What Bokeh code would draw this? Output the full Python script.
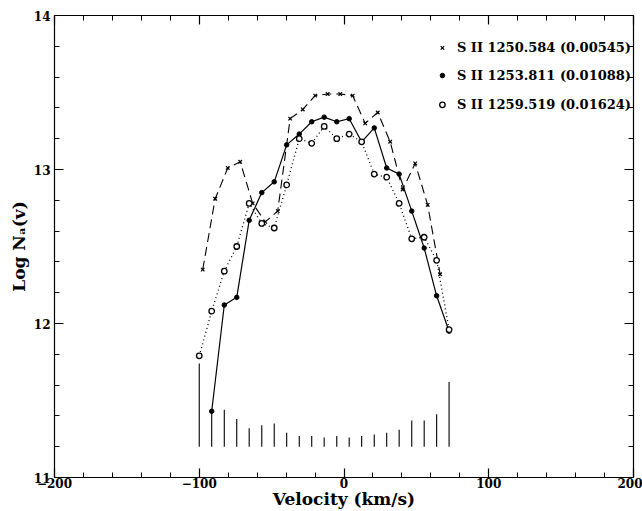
from bokeh.plotting import figure
from bokeh.models import LinearAxis, FixedTicker, Range1d
from bokeh.core.properties import value
from bokeh.embed import file_html
from bokeh.resources import INLINE

# Velocity grids (km/s)
vel = [-100.0, -91.4, -82.7, -74.1, -65.5, -56.8, -48.2, -39.6, -30.9, -22.3,
       -13.7, -5.0, 3.6, 12.2, 20.9, 29.5, 38.1, 46.8, 55.4, 64.0, 72.6]
vel_x = [-97.6, -89.0, -80.3, -71.7, -63.1, -54.4, -45.8, -37.2, -28.5, -19.9,
         -11.3, -2.6, 6.0, 14.6, 23.3, 31.9, 40.5, 49.2, 57.8, 66.4]

# S II 1250.584 (crosses, dashed)
logn_1250 = [12.35, 12.81, 13.01, 13.05, 12.78, 12.66, 12.73, 13.33, 13.39, 13.48,
             13.49, 13.49, 13.48, 13.30, 13.37, 13.18, 12.87, 13.04, 12.77, 12.32]
# S II 1253.811 (filled circles, solid) -- starts at second velocity bin
vel_1253 = vel[1:]
logn_1253 = [11.43, 12.12, 12.17, 12.67, 12.85, 12.92, 13.16, 13.23, 13.31, 13.34,
             13.31, 13.33, 13.18, 13.27, 13.01, 12.97, 12.73, 12.49, 12.18, 11.95]
# S II 1259.519 (open circles, dotted)
logn_1259 = [11.79, 12.08, 12.34, 12.50, 12.78, 12.65, 12.62, 12.90, 13.20, 13.17,
             13.28, 13.20, 13.23, 13.18, 12.97, 12.95, 12.78, 12.55, 12.56, 12.41, 11.96]
# vertical bars at the bottom
bar_base = 11.2
bar_top = [11.74, 11.43, 11.44, 11.38, 11.32, 11.34, 11.35, 11.29, 11.27, 11.27,
           11.26, 11.27, 11.26, 11.27, 11.28, 11.29, 11.31, 11.37, 11.37, 11.41, 11.62]

legend_labels = ["S II 1250.584 (0.00545)", "S II 1253.811 (0.01088)", "S II 1259.519 (0.01624)"]
legend_y = [13.79, 13.61, 13.42]

x_major = [-200, -100, 0, 100, 200]
y_major = [11, 12, 13, 14]

FONT = "DejaVu Serif"

p = figure(width=642, height=511, output_backend="svg", toolbar_location=None,
           x_range=Range1d(-200, 200), y_range=Range1d(11, 14),
           min_border_left=54, min_border_right=9, min_border_top=15, min_border_bottom=33,
           x_axis_label="Velocity (km/s)", y_axis_label="Log Nₐ(v)")
p.grid.visible = False
p.outline_line_color = "black"
p.outline_line_width = 1.2
p.background_fill_color = "white"
p.border_fill_color = "white"

x_minor = [v for v in range(-200, 201, 20)]
y_minor = [round(11 + 0.2 * k, 1) for k in range(16)]

def style_axis(ax, ticks, minor, labels=True):
    ax.ticker = FixedTicker(ticks=ticks, minor_ticks=minor)
    ax.major_tick_in = 9
    ax.major_tick_out = 0
    ax.minor_tick_in = 5
    ax.minor_tick_out = 0
    ax.major_tick_line_width = 1.2
    ax.minor_tick_line_width = 1.0
    ax.axis_line_color = None
    ax.major_label_text_font = FONT
    ax.major_label_text_font_style = "bold"
    ax.major_label_text_font_size = "12px"
    ax.major_label_text_color = "black"
    ax.axis_label_text_font = FONT
    ax.axis_label_text_font_style = "bold"
    ax.axis_label_text_font_size = "17px"
    ax.axis_label_text_color = "black"
    if not labels:
        ax.major_label_text_font_size = "0px"
        ax.major_label_text_color = None

style_axis(p.xaxis[0], x_major, x_minor)
style_axis(p.yaxis[0], y_major, y_minor)
p.xaxis[0].major_label_overrides = {t: str(t).replace("-", "\u2212") for t in x_major}
p.xaxis[0].major_label_standoff = 0
p.xaxis[0].axis_label_standoff = -2
p.yaxis[0].major_label_standoff = 4
p.yaxis[0].axis_label_standoff = 2

right = LinearAxis()
style_axis(right, y_major, y_minor, labels=False)
p.add_layout(right, "right")
top = LinearAxis()
style_axis(top, x_major, x_minor, labels=False)
p.add_layout(top, "above")

# bars
p.segment(x0=vel, y0=[bar_base] * len(vel), x1=vel, y1=bar_top, line_color="black", line_width=1.1)

# lines
p.line(vel_x, logn_1250, line_color="black", line_width=1.1, line_dash="9 5")
p.line(vel_1253, logn_1253, line_color="black", line_width=1.2)
p.line(vel, logn_1259, line_color="black", line_width=1.3, line_dash="1 3")

# markers
p.scatter(vel_x, logn_1250, marker="x", size=5, line_color="black", line_width=1.2)
p.scatter(vel_1253, logn_1253, marker="circle", size=4.5, fill_color="black", line_color="black")
p.scatter(vel, logn_1259, marker="circle", size=5.5, fill_color="white", line_color="black", line_width=1.3)

# legend
lx = [68, 68, 68]
p.scatter([lx[0]], [legend_y[0]], marker="x", size=5, line_color="black", line_width=1.2)
p.scatter([lx[1]], [legend_y[1]], marker="circle", size=4.5, fill_color="black", line_color="black")
p.scatter([lx[2]], [legend_y[2]], marker="circle", size=5.5, fill_color="white", line_color="black", line_width=1.3)
p.text(x=[78] * 3, y=legend_y, text=legend_labels, text_font=value(FONT), text_font_style="bold",
       text_font_size="13px", text_baseline="middle", text_align="left", text_color="black")

open("out.html", "w").write(file_html(p, INLINE))
